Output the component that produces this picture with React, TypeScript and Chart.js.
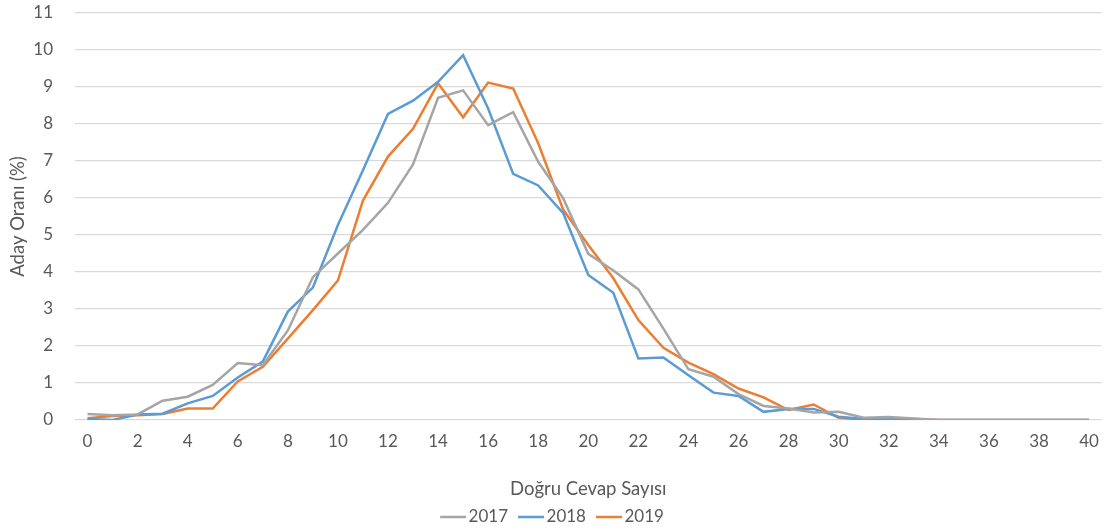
import React, { useEffect, useRef } from "react";
import { Chart, registerables } from "chart.js";

Chart.register(...registerables);

const categories: string[] = Array.from({ length: 41 }, (_, i) => String(i));

const series2017: number[] = [
  0.16, 0.13, 0.15, 0.52, 0.63, 0.95, 1.54, 1.48, 2.42, 3.86,
  4.5, 5.14, 5.87, 6.91, 8.71, 8.91, 7.97, 8.32, 6.98, 5.99,
  4.49, 4.04, 3.53, 2.47, 1.37, 1.17, 0.7, 0.38, 0.31, 0.2,
  0.22, 0.06, 0.08, 0.04, 0, 0, 0, 0, 0, 0, 0,
];

const series2018: number[] = [
  0.03, 0.0, 0.15, 0.17, 0.45, 0.65, 1.15, 1.58, 2.93, 3.58,
  5.27, 6.75, 8.27, 8.63, 9.14, 9.86, 8.42, 6.65, 6.34, 5.59,
  3.92, 3.44, 1.66, 1.69, 1.21, 0.74, 0.65, 0.22, 0.3, 0.3,
  0.09, 0.03, 0.02, 0.01, 0, 0, 0, 0, 0, 0, 0,
];

const series2019: number[] = [
  0.05, 0.11, 0.13, 0.16, 0.31, 0.31, 1.04, 1.44, 2.2, 2.97,
  3.77, 5.93, 7.12, 7.87, 9.1, 8.18, 9.12, 8.96, 7.48, 5.68,
  4.73, 3.83, 2.7, 1.95, 1.55, 1.24, 0.85, 0.61, 0.27, 0.42,
  0.06, 0.01, 0.03, 0.03, 0, 0, 0, 0, 0, 0, 0,
];

const seriesNames: string[] = ["2017", "2018", "2019"];
const seriesColors: string[] = ["#A5A5A5", "#5B9BD5", "#ED7D31"];
const yTicks: number[] = [0, 1, 2, 3, 4, 5, 6, 7, 8, 9, 10, 11];

const FONT = "Lato, 'Open Sans', sans-serif";
const TEXT = "#595959";

function legendLine(color: string): HTMLCanvasElement {
  const c = document.createElement("canvas");
  c.width = 36;
  c.height = 6;
  const ctx = c.getContext("2d")!;
  ctx.strokeStyle = color;
  ctx.lineWidth = 2.5;
  ctx.beginPath();
  ctx.moveTo(8, 3);
  ctx.lineTo(34, 3);
  ctx.stroke();
  return c;
}

export default function App() {
  const ref = useRef<HTMLCanvasElement | null>(null);

  useEffect(() => {
    if (!ref.current) return;
    const icons = seriesColors.map(legendLine);
    const seriesData = [series2017, series2018, series2019];
    const chart = new Chart(ref.current, {
      type: "line",
      data: {
        labels: categories,
        datasets: seriesNames.map((name, i) => ({
          label: name,
          data: seriesData[i],
          borderColor: seriesColors[i],
          backgroundColor: seriesColors[i],
          borderWidth: 2.5,
          pointRadius: 0,
          tension: 0,
          fill: false,
        })),
      },
      options: {
        animation: false,
        responsive: false,
        maintainAspectRatio: false,
        layout: { padding: { left: 0, right: 6, top: 13, bottom: -4.5 } },
        plugins: {
          legend: {
            position: "bottom",
            labels: {
              usePointStyle: true,
              pointStyleWidth: 20,
              padding: 10,
              color: TEXT,
              font: { family: FONT, size: 17 },
              generateLabels: (ch: any) => {
                const items = (Chart as any).defaults.plugins.legend.labels.generateLabels(ch);
                return items.map((it: any, i: number) => ({ ...it, pointStyle: icons[i] }));
              },
            },
          },
          tooltip: { enabled: false },
        },
        scales: {
          x: {
            type: "category",
            offset: true,
            grid: { display: false, drawTicks: false },
            border: { display: false },
            afterFit: (s: any) => {
              s.height = 78.5;
            },
            ticks: {
              autoSkip: false,
              maxRotation: 0,
              padding: 11,
              color: TEXT,
              font: { family: FONT, size: 17 },
              callback: (_v, i) => (i % 2 === 0 ? categories[i] : ""),
            },
            title: {
              display: true,
              text: "Doğru Cevap Sayısı",
              color: TEXT,
              font: { family: FONT, size: 18.5 },
              padding: { top: 0, bottom: -1.5 },
            },
          },
          y: {
            min: 0,
            max: 11,
            afterBuildTicks: (s: any) => {
              s.ticks = yTicks.map((v) => ({ value: v }));
            },
            afterFit: (s: any) => {
              s.width = 75;
            },
            grid: {
              color: "#D9D9D9",
              lineWidth: 1.3,
              drawTicks: true,
              tickLength: 22,
              tickColor: "rgba(0,0,0,0)",
            },
            border: { display: false },
            ticks: {
              padding: 0,
              color: TEXT,
              font: { family: FONT, size: 17 },
            },
            title: {
              display: true,
              text: "Aday Oranı (%)",
              color: TEXT,
              font: { family: FONT, size: 18.5 },
              padding: { top: 7, bottom: 0 },
            },
          },
        },
      },
    });
    return () => chart.destroy();
  }, []);

  return (
    <div style={{ position: "absolute", left: 0, top: 0, width: 1110, height: 531, background: "#fff" }}>
      <canvas ref={ref} width={1110} height={531} style={{ display: "block" }} />
    </div>
  );
}
